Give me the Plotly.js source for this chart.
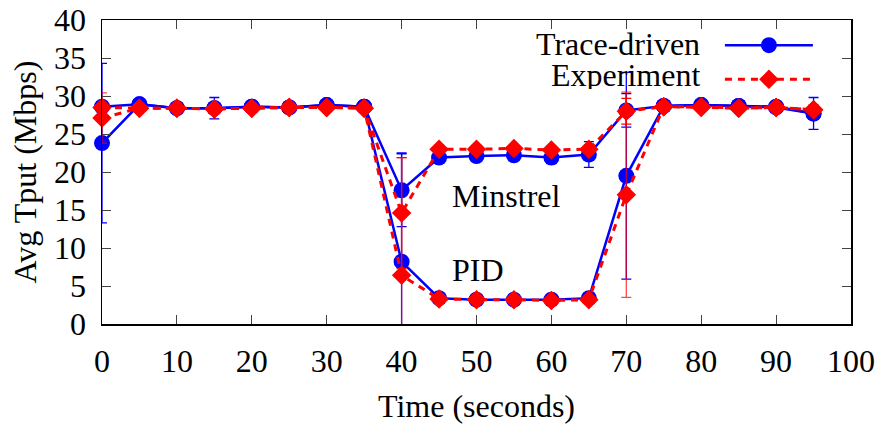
<!DOCTYPE html>
<html>
<head>
<meta charset="utf-8">
<script src="https://cdn.plot.ly/plotly-3.0.1.min.js"></script>
<style>html,body{margin:0;padding:0;background:#fff;}#chart{width:883px;height:429px;}</style>
</head>
<body>
<div id="chart"></div>
<script>
const timeSec = [0,5,10,15,20,25,30,35,40,45,50,55,60,65,70,75,80,85,90,95];

const minstrelTrace = [28.6,28.9,28.4,28.4,28.6,28.5,28.8,28.6,17.6,21.9,22.1,22.2,21.9,22.3,28.1,28.7,28.8,28.7,28.6,27.7];
const minstrelTraceErr = [0.5,0.5,0.4,1.4,0.4,0.4,0.5,0.4,4.8,0.7,0.7,0.6,0.8,1.7,2.2,0.4,0.4,0.4,0.4,2.1];
const minstrelExp = [28.5,28.4,28.4,28.3,28.4,28.5,28.5,28.4,14.6,23.0,23.0,23.1,22.9,23.0,28.0,28.6,28.6,28.4,28.5,28.2];
const minstrelExpErr = [0.5,0.4,0.4,0.4,0.4,0.4,0.4,0.4,7.3,0.5,0.5,0.5,0.5,0.5,1.7,0.4,0.4,0.4,0.4,0.6];

const pidTrace = [23.8,28.9,28.4,28.4,28.6,28.5,28.8,28.6,8.2,3.4,3.2,3.2,3.2,3.4,19.5,28.7,28.8,28.7,28.5,27.7];
const pidTraceErr = [10.5,0.4,0.4,0.4,0.4,0.4,0.4,0.4,14.3,0.3,0.3,0.3,0.3,0.4,13.6,0.4,0.4,0.4,0.4,0.5];
const pidExp = [27.1,28.4,28.4,28.3,28.4,28.5,28.5,28.4,6.4,3.3,3.2,3.2,3.1,3.2,17.0,28.6,28.5,28.4,28.5,28.2];
const pidExpErr = [3.3,0.4,0.4,0.4,0.4,0.4,0.4,0.4,15.5,0.3,0.3,0.3,0.3,0.3,13.5,0.4,0.4,0.4,0.4,0.6];

const seriesNames = ["Trace-driven", "Experiment"];
const groupLabels = ["Minstrel", "PID"];
const xTicks = [0,10,20,30,40,50,60,70,80,90,100];
const yTicks = [0,5,10,15,20,25,30,35,40];

const FONT = "'Liberation Serif', 'Times New Roman', Times, serif";
const BLUE = "#0000ff", RED = "#ff0000";

function blueTrace(y, err, show) {
  return {
    x: timeSec, y: y, type: "scatter", mode: "lines+markers",
    name: "", showlegend: show, cliponaxis: false,
    line: {color: BLUE, width: 2.5},
    marker: {symbol: "circle", size: 16, color: BLUE},
    error_y: {type: "data", array: err, visible: true, color: BLUE, thickness: 1.3, width: 5}
  };
}
function redTrace(y, err, show, ecolor) {
  return {
    x: timeSec, y: y, type: "scatter", mode: "lines+markers",
    name: "", showlegend: show, cliponaxis: false,
    line: {color: RED, width: 3, dash: "7px,6px"},
    marker: {symbol: "diamond", size: 15, color: RED},
    error_y: {type: "data", array: err, visible: true, color: ecolor, thickness: 1.3, width: 5}
  };
}

const data = [
  blueTrace(minstrelTrace, minstrelTraceErr, true),
  blueTrace(pidTrace, pidTraceErr, false),
  redTrace(minstrelExp, minstrelExpErr, true, RED),
  redTrace(pidExp, pidExpErr, false, "rgba(255,0,0,0.72)")
];

const axisCommon = {
  showline: true, linecolor: "#000", linewidth: 1.5, mirror: "ticks",
  ticks: "inside", ticklen: 9, tickwidth: 1, tickcolor: "#444",
  showgrid: false, zeroline: false,
  tickfont: {family: FONT, size: 32, color: "#000"}
};

const layout = {
  width: 883, height: 429,
  margin: {l: 101.5, r: 32, t: 20, b: 105},
  paper_bgcolor: "#fff", plot_bgcolor: "#fff",
  font: {family: FONT, size: 32, color: "#000"},
  xaxis: Object.assign({}, axisCommon, {
    range: [0, 100], tickvals: xTicks, ticktext: xTicks.map(String),
    ticklabelstandoff: 8,
    title: {text: "Time (seconds)", font: {family: FONT, size: 32}, standoff: 16}
  }),
  yaxis: Object.assign({}, axisCommon, {
    range: [0, 40], tickvals: yTicks, ticktext: yTicks.map(String),
    ticklabelstandoff: 8,
    title: {text: "Avg Tput (Mbps)", font: {family: FONT, size: 32}, standoff: 8}
  }),
  showlegend: true,
  legend: {
    x: 0.825, y: 0.99, xanchor: "left", yanchor: "top",
    bgcolor: "rgba(0,0,0,0)", borderwidth: 0,
    font: {family: FONT, size: 24},
    itemwidth: 88, tracegroupgap: 0
  },
  annotations: [
    {xref: "paper", yref: "paper", x: 0.80, y: 0.92, xanchor: "right", yanchor: "middle",
     height: 28, borderpad: 0,
     text: seriesNames[0], showarrow: false, font: {family: FONT, size: 32, color: "#000"}},
    {xref: "paper", yref: "paper", x: 0.80, y: 0.82, xanchor: "right", yanchor: "middle",
     height: 28, borderpad: 0,
     text: seriesNames[1], showarrow: false, font: {family: FONT, size: 32, color: "#000"}},
    {xref: "x", yref: "y", x: 46.5, y: 16.9, xanchor: "left", yanchor: "middle",
     text: groupLabels[0], showarrow: false, font: {family: FONT, size: 32, color: "#000"}},
    {xref: "x", yref: "y", x: 46.5, y: 7.1, xanchor: "left", yanchor: "middle",
     text: groupLabels[1], showarrow: false, font: {family: FONT, size: 32, color: "#000"}}
  ]
};

Plotly.newPlot("chart", data, layout, {displayModeBar: false, staticPlot: true});
</script>
</body>
</html>
